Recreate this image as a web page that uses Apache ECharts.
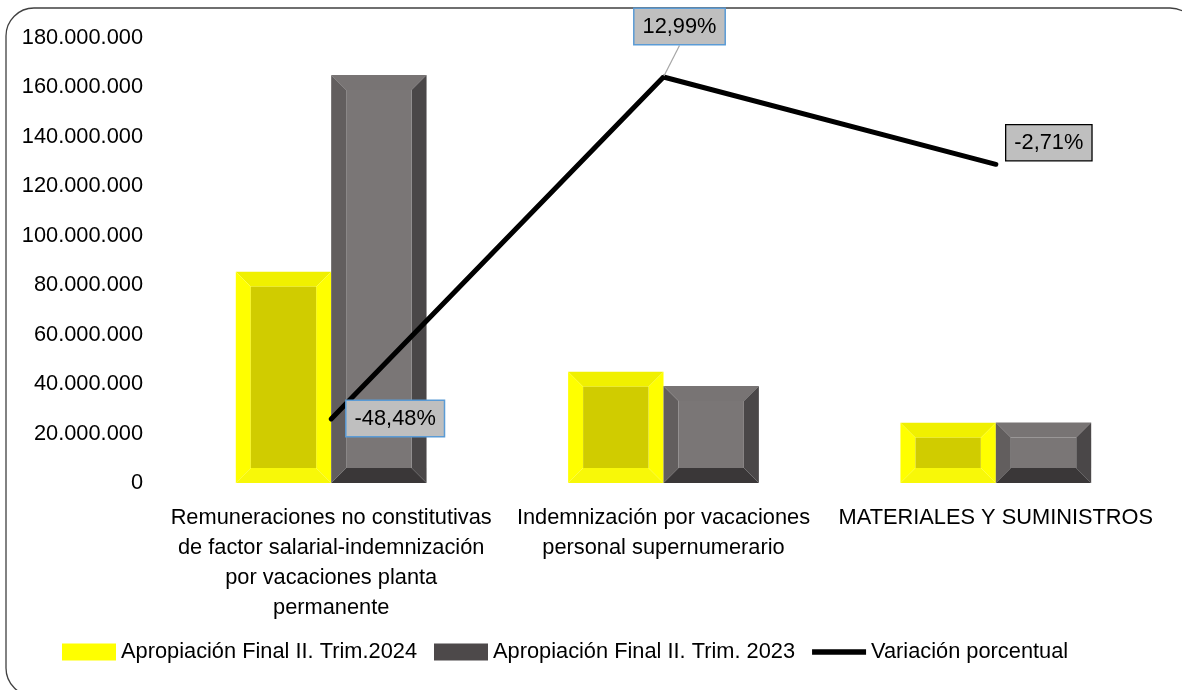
<!DOCTYPE html>
<html>
<head>
<meta charset="utf-8">
<script src="https://cdn.jsdelivr.net/npm/echarts@6/dist/echarts.min.js"></script>
<style>
  html, body { margin: 0; padding: 0; background: #fff; }
  #chart { width: 1182px; height: 690px; }
</style>
</head>
<body>
<div id="chart"></div>
<script>
    // datos
    var categorias = [
        'Remuneraciones no constitutivas\nde factor salarial-indemnización\npor vacaciones planta\npermanente',
        'Indemnización por vacaciones\npersonal supernumerario',
        'MATERIALES Y SUMINISTROS'
    ];
    var nombres = ['Apropiación Final II. Trim.2024', 'Apropiación Final II. Trim. 2023', 'Variación porcentual'];
    var apropiacion2024 = [85500000, 45000000, 24400000];
    var apropiacion2023 = [165000000, 39200000, 24500000];
    var variacion = [-48.48, 12.99, -2.71];

    var fuente = 'Liberation Sans';
    var tam = 21.8;

    function miles(v) {
        return String(v).replace(/\B(?=(\d{3})+(?!\d))/g, '.');
    }

    // barra con bisel (como en excel)
    function barraBisel(lado, colores) {
        return function (params, api) {
            var idx = api.value(0);
            var arriba = api.coord([idx, api.value(1)]);
            var base = api.coord([idx, 0]);
            var w = api.size([1, 0])[0] * 0.287;
            var x0 = lado < 0 ? arriba[0] - w : arriba[0];
            var x1 = x0 + w;
            var y0 = arriba[1];
            var y1 = base[1];
            var b = Math.min(15, (y1 - y0) / 2, w / 2);
            function poly(pts, c) {
                return { type: 'polygon', shape: { points: pts }, style: { fill: c } };
            }
            return {
                type: 'group',
                children: [
                    poly([[x0, y0], [x1, y0], [x1 - b, y0 + b], [x0 + b, y0 + b]], colores.top),
                    poly([[x0, y0], [x0 + b, y0 + b], [x0 + b, y1 - b], [x0, y1]], colores.left),
                    poly([[x1, y0], [x1, y1], [x1 - b, y1 - b], [x1 - b, y0 + b]], colores.right),
                    poly([[x0, y1], [x1, y1], [x1 - b, y1 - b], [x0 + b, y1 - b]], colores.bottom),
                    { type: 'rect', shape: { x: x0 + b, y: y0 + b, width: w - 2 * b, height: y1 - y0 - 2 * b }, style: { fill: colores.center } }
                ]
            };
        };
    }

    var amarillo = { top: '#f0f000', left: '#ffff00', right: '#ffff00', bottom: '#f8f808', center: '#d0cc00' };
    var gris = { top: '#787474', left: '#625e5e', right: '#4a4748', bottom: '#3a3738', center: '#7a7676' };

    var chart = echarts.init(document.getElementById('chart'));
    chart.setOption({
        animation: false,
        textStyle: { fontFamily: fuente },
        graphic: [{
            type: 'rect',
            shape: { x: 6, y: 8, width: 1192, height: 688, r: 28 },
            style: { fill: 'none', stroke: '#404040', lineWidth: 1.3 },
            z: 0
        }],
        grid: { left: 165, right: 20, top: 38, bottom: 207 },
        legend: {
            left: 62,
            top: 641,
            padding: 0,
            itemWidth: 54,
            itemHeight: 17,
            itemGap: 17,
            textStyle: { fontSize: tam, color: '#000', fontFamily: fuente },
            data: [
                { name: nombres[0], icon: 'rect', itemStyle: { color: '#ffff00' } },
                { name: nombres[1], icon: 'rect', itemStyle: { color: '#4d494a' } },
                { name: nombres[2], icon: 'path://M0,0L48,0L48,5L0,5Z', itemStyle: { color: '#000' } }
            ]
        },
        xAxis: {
            type: 'category',
            data: categorias,
            axisLine: { show: false },
            axisTick: { show: false },
            axisLabel: { interval: 0, fontSize: tam, lineHeight: 30, color: '#000', margin: 20, fontFamily: fuente }
        },
        yAxis: [{
            type: 'value',
            min: 0,
            max: 180000000,
            interval: 20000000,
            splitLine: { show: false },
            axisLine: { show: false },
            axisTick: { show: false },
            axisLabel: { fontSize: tam, color: '#000', margin: 22, formatter: miles, fontFamily: fuente }
        }, {
            type: 'value',
            min: -60,
            max: 20,
            interval: 10,
            show: false,
            splitLine: { show: false }
        }],
        series: [{
            name: nombres[0],
            type: 'custom',
            itemStyle: { color: '#ffff00' },
            renderItem: barraBisel(-1, amarillo),
            encode: { x: 0, y: 1 },
            data: apropiacion2024.map(function (v, i) { return [i, v]; }),
            z: 2
        }, {
            name: nombres[1],
            type: 'custom',
            itemStyle: { color: '#4d494a' },
            renderItem: barraBisel(1, gris),
            encode: { x: 0, y: 1 },
            data: apropiacion2023.map(function (v, i) { return [i, v]; }),
            z: 2
        }, {
            name: nombres[2],
            type: 'line',
            yAxisIndex: 1,
            symbol: 'circle',
            symbolSize: 2,
            showSymbol: true,
            z: 5,
            lineStyle: { color: '#000', width: 5, cap: 'round' },
            itemStyle: { color: '#000' },
            data: variacion.map(function (v, i) {
                if (i === 1) return { value: v, labelLine: { show: true } };
                if (i === 2) return { value: v, label: { borderColor: '#000', borderWidth: 1.3 }, labelLine: { show: false } };
                return { value: v, labelLine: { show: false } };
            }),
            label: {
                show: true,
                formatter: function (p) { return p.value.toFixed(2).replace('.', ',') + '%'; },
                fontSize: tam,
                color: '#000',
                backgroundColor: '#bfbfbf',
                borderColor: '#5b9bd5',
                borderWidth: 1.5,
                padding: [7, 8, 6, 8],
                fontFamily: fuente
            },
            labelLine: { show: false, lineStyle: { color: '#a6a6a6', width: 1.2 } },
            labelLayout: function (p) {
                if (p.dataIndex === 0) return { dx: 64, dy: 23 };
                if (p.dataIndex === 1) return { dx: 16, dy: -27 };
                return { dx: 53, dy: 2 };
            }
        }]
    });
</script>
</body>
</html>
